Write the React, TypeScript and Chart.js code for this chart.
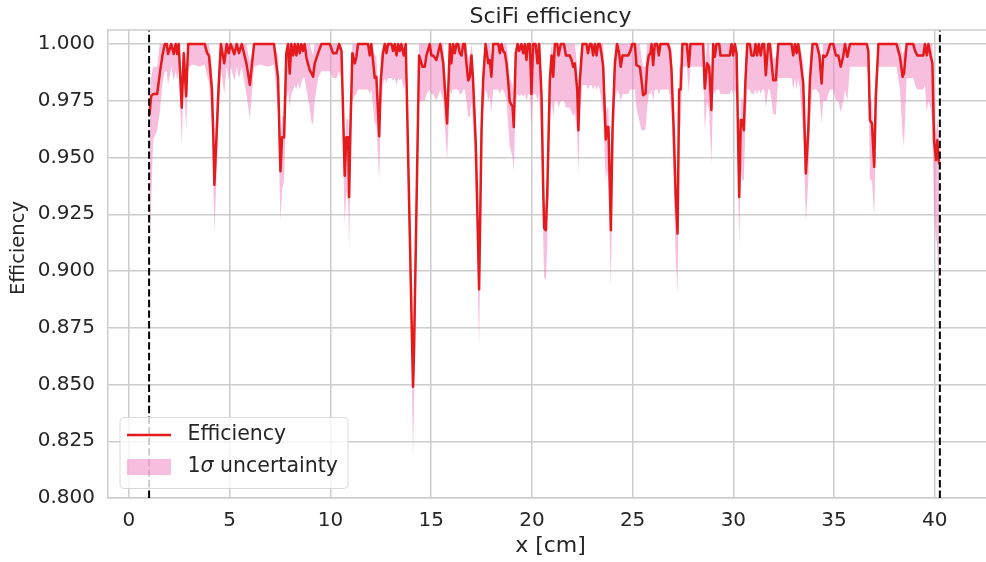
import React, { useEffect, useRef } from 'react';
import { Chart, registerables } from 'chart.js';

Chart.register(...registerables);

// ---------------- data ----------------
const X_CM = [
  1.02, 1.10, 1.20, 1.40, 1.53, 1.66, 1.78, 1.88, 1.94, 2.10, 2.22, 2.32, 2.39, 2.47, 2.62, 2.72, 2.84, 2.94,
  3.20, 3.50, 3.76, 3.88, 3.97, 4.12, 4.20, 4.24, 4.43, 4.56, 4.73, 4.85, 4.95, 5.05, 5.23, 5.35, 5.46, 5.60,
  5.83, 6.00, 6.21, 6.50, 6.90, 7.20, 7.40, 7.52, 7.60, 7.70, 7.81, 7.90, 7.98, 8.06, 8.15, 8.23, 8.31, 8.39,
  8.48, 8.56, 8.64, 8.72, 8.81, 8.97, 9.07, 9.14, 9.22, 9.39, 9.55, 9.97, 10.13, 10.30, 10.43, 10.55, 10.71,
  10.79, 10.88, 10.93, 10.99, 11.09, 11.21, 11.29, 11.37, 11.87, 11.95, 12.03, 12.20, 12.28, 12.42, 12.50,
  12.61, 12.70, 12.78, 12.86, 13.03, 13.11, 13.19, 13.28, 13.36, 13.44, 13.52, 13.64, 13.74, 14.05, 14.10,
  14.15, 14.40, 14.57, 14.68, 14.77, 14.93, 15.01, 15.10, 15.26, 15.45, 15.60, 15.79, 15.93, 16.00, 16.09,
  16.17, 16.26, 16.34, 16.42, 16.51, 16.59, 16.67, 16.75, 16.84, 16.92, 17.00, 17.08, 17.22, 17.38, 17.50,
  17.58, 17.70, 17.78, 17.83, 17.91, 17.99, 18.08, 18.33, 18.41, 18.49, 18.57, 18.66, 18.74, 18.82, 18.90,
  19.04, 19.10, 19.20, 19.29, 19.37, 19.48, 19.57, 19.65, 19.73, 19.81, 19.90, 19.98, 20.06, 20.18, 20.28,
  20.36, 20.48, 20.56, 20.61, 20.69, 20.76, 20.89, 20.98, 21.06, 21.14, 21.26, 21.32, 21.44, 21.59, 21.69,
  21.88, 21.97, 22.05, 22.13, 22.25, 22.31, 22.38, 22.51, 22.71, 22.78, 22.88, 22.96, 23.04, 23.13, 23.21,
  23.29, 23.37, 23.45, 23.54, 23.67, 23.73, 23.80, 23.92, 24.00, 24.12, 24.23, 24.33, 24.41, 24.50, 24.61,
  24.78, 24.89, 24.98, 25.11, 25.19, 25.36, 25.44, 25.52, 25.64, 25.72, 25.80, 25.89, 25.94, 26.02, 26.10,
  26.22, 26.30, 26.38, 26.76, 26.85, 26.93, 27.04, 27.14, 27.23, 27.31, 27.39, 27.47, 27.69, 27.79, 27.87,
  28.50, 28.58, 28.70, 28.80, 28.91, 29.00, 29.08, 29.16, 29.30, 29.36, 29.82, 29.91, 29.99, 30.07, 30.16,
  30.29, 30.37, 30.45, 30.52, 30.60, 30.69, 30.82, 30.90, 31.02, 31.10, 31.18, 31.26, 31.36, 31.44, 31.53,
  31.61, 31.73, 31.81, 31.90, 31.98, 32.11, 32.23, 32.89, 32.97, 33.06, 33.14, 33.22, 33.30, 33.47, 33.60,
  33.72, 33.80, 33.93, 34.13, 34.27, 34.38, 34.46, 34.55, 34.63, 34.71, 34.80, 34.96, 35.09, 35.21, 35.33,
  35.46, 35.54, 35.66, 35.79, 36.62, 36.70, 36.78, 36.88, 36.99, 37.07, 37.20, 38.10, 38.27, 38.40, 38.47,
  38.60, 38.93, 39.02, 39.13, 39.43, 39.51, 39.60, 39.68, 39.79, 39.88, 39.96, 40.06, 40.12, 40.21,
];

const EFFICIENCY = [
  0.969, 0.977, 0.978, 0.978, 0.987, 0.995, 1.000, 1.000, 0.9956, 1.000, 0.9956, 1.000, 0.9956, 1.000, 0.972, 0.996, 0.977, 1.000,
  1.000, 1.000, 1.000, 0.996, 0.995, 0.980, 0.955, 0.938, 0.977, 1.000, 0.9915, 1.000, 0.996, 1.000, 0.9955, 1.000, 0.996, 1.000,
  0.9915, 0.982, 1.000, 1.000, 1.000, 1.000, 0.985, 0.944, 0.959, 0.959, 0.996, 1.000, 0.987, 1.000, 0.995, 1.000, 0.995, 1.000,
  0.996, 1.000, 0.997, 1.000, 0.994, 0.9885, 0.987, 0.9856, 0.9915, 0.996, 1.000, 1.000, 0.996, 0.996, 1.000, 0.997, 0.942,
  0.959, 0.959, 0.9326, 0.962, 0.996, 0.9915, 0.9944, 1.000, 1.000, 0.995, 1.000, 0.985, 0.9856, 0.9594, 0.984,
  0.996, 1.000, 0.996, 1.000, 1.000, 0.997, 1.000, 0.995, 1.000, 0.997, 1.000, 0.995, 1.000, 0.870, 0.849,
  0.865, 0.995, 0.990, 0.990, 0.995, 1.000, 0.995, 0.995, 0.993, 1.000, 0.9915, 0.965, 1.000, 0.9915, 1.000,
  0.996, 1.000, 1.000, 0.996, 0.995, 1.000, 1.000, 0.9915, 0.984, 0.9856, 0.995, 0.984, 0.955, 0.892, 0.962,
  0.984, 1.000, 0.995, 0.9915, 0.993, 0.9856, 1.000, 1.000, 0.996, 1.000, 0.997, 0.996, 0.9915, 0.984, 0.9746,
  0.9724, 0.9635, 0.996, 1.000, 0.997, 1.000, 0.996, 1.000, 0.993, 1.000, 1.000, 0.978, 1.000, 1.000, 0.9915,
  1.000, 0.977, 0.937, 0.919, 0.918, 0.933, 0.984, 0.995, 0.9856, 1.000, 1.000, 0.995, 1.000, 1.000, 0.995,
  0.995, 0.993, 0.990, 0.9915, 0.980, 0.962, 0.984, 1.000, 1.000, 0.996, 1.000, 1.000, 0.995, 1.000, 0.995,
  1.000, 1.000, 0.996, 0.990, 0.958, 0.9635, 0.9635, 0.918, 0.962, 0.9915, 1.000, 0.996, 0.990, 0.995, 0.995,
  0.995, 0.997, 1.000, 1.000, 0.9907, 0.990, 0.9841, 0.9775, 0.9782, 0.990, 0.995, 0.996, 1.000, 0.9907, 1.000,
  1.000, 0.995, 1.000, 1.000, 0.997, 0.9885, 0.962, 0.9326, 0.9165, 0.980, 0.980, 1.000, 1.000, 0.990, 1.000,
  1.000, 0.9804, 0.9915, 0.990, 0.971, 1.000, 0.9944, 1.000, 1.000, 0.995, 0.995, 1.000, 0.995, 1.000, 0.996,
  0.9326, 0.9665, 0.9665, 0.962, 0.984, 1.000, 1.000, 0.995, 0.995, 1.000, 0.995, 1.000, 0.995, 1.000, 1.000,
  0.9863, 1.000, 1.000, 0.9915, 0.9841, 0.9841, 1.000, 1.000, 0.995, 1.000, 0.996, 1.000, 0.995, 0.9826, 0.943,
  0.962, 0.9841, 1.000, 1.000, 0.995, 0.9826, 0.995, 0.9944, 0.995, 0.997, 1.000, 1.000, 0.995, 0.995, 0.990,
  0.995, 1.000, 0.9944, 1.000, 1.000, 0.997, 0.9665, 0.965, 0.946, 0.977, 1.000, 1.000, 0.9944, 0.9856, 0.987,
  1.000, 1.000, 0.997, 0.995, 0.995, 1.000, 0.995, 1.000, 0.995, 0.9915, 0.9576, 0.9488, 0.9576, 0.9474,
];

const LOWER_1SIGMA = [
  0.905, 0.930, 0.958, 0.962, 0.970, 0.982, 0.988, 0.988, 0.982, 0.990, 0.984, 0.988, 0.984, 0.990, 0.956, 0.984, 0.962, 0.990,
  0.991, 0.990, 0.991, 0.986, 0.983, 0.965, 0.935, 0.9165, 0.962, 0.990, 0.978, 0.990, 0.984, 0.990, 0.984, 0.990, 0.985, 0.990,
  0.978, 0.967, 0.990, 0.991, 0.990, 0.991, 0.970, 0.922, 0.936, 0.940, 0.975, 0.980, 0.972, 0.978, 0.980, 0.982, 0.980, 0.983,
  0.980, 0.983, 0.985, 0.985, 0.980, 0.972, 0.965, 0.965, 0.975, 0.985, 0.988, 0.988, 0.985, 0.985, 0.988, 0.985, 0.920,
  0.935, 0.930, 0.909, 0.945, 0.975, 0.977, 0.978, 0.980, 0.980, 0.978, 0.980, 0.965, 0.965, 0.940, 0.970,
  0.982, 0.985, 0.983, 0.985, 0.985, 0.984, 0.985, 0.982, 0.985, 0.984, 0.985, 0.980, 0.985, 0.850, 0.818,
  0.840, 0.975, 0.975, 0.975, 0.978, 0.980, 0.978, 0.978, 0.975, 0.980, 0.975, 0.949, 0.980, 0.978, 0.980,
  0.980, 0.980, 0.980, 0.978, 0.978, 0.980, 0.980, 0.975, 0.968, 0.968, 0.975, 0.965, 0.935, 0.8665, 0.945,
  0.970, 0.980, 0.978, 0.975, 0.977, 0.970, 0.980, 0.980, 0.978, 0.980, 0.980, 0.978, 0.975, 0.965, 0.955,
  0.950, 0.944, 0.975, 0.978, 0.977, 0.978, 0.977, 0.978, 0.975, 0.978, 0.978, 0.963, 0.978, 0.978, 0.975,
  0.978, 0.955, 0.915, 0.897, 0.896, 0.910, 0.965, 0.975, 0.968, 0.975, 0.975, 0.972, 0.975, 0.975, 0.972,
  0.972, 0.970, 0.968, 0.970, 0.960, 0.943, 0.968, 0.982, 0.982, 0.980, 0.982, 0.982, 0.980, 0.982, 0.980,
  0.982, 0.980, 0.975, 0.968, 0.939, 0.945, 0.940, 0.893, 0.940, 0.975, 0.980, 0.978, 0.975, 0.978, 0.978,
  0.978, 0.980, 0.980, 0.980, 0.972, 0.965, 0.962, 0.962, 0.962, 0.972, 0.978, 0.978, 0.980, 0.975, 0.980,
  0.980, 0.978, 0.980, 0.980, 0.978, 0.970, 0.940, 0.905, 0.890, 0.960, 0.965, 0.990, 0.990, 0.978, 0.990,
  0.990, 0.962, 0.975, 0.970, 0.947, 0.980, 0.978, 0.980, 0.980, 0.978, 0.978, 0.980, 0.978, 0.980, 0.975,
  0.911, 0.945, 0.940, 0.940, 0.965, 0.980, 0.980, 0.978, 0.978, 0.980, 0.978, 0.980, 0.978, 0.980, 0.980,
  0.972, 0.980, 0.980, 0.975, 0.969, 0.969, 0.985, 0.985, 0.980, 0.985, 0.980, 0.985, 0.980, 0.960, 0.922,
  0.940, 0.965, 0.980, 0.980, 0.978, 0.965, 0.975, 0.975, 0.975, 0.978, 0.980, 0.980, 0.975, 0.975, 0.970,
  0.975, 0.980, 0.975, 0.990, 0.990, 0.985, 0.940, 0.940, 0.9245, 0.955, 0.990, 0.990, 0.980, 0.960, 0.955,
  0.985, 0.985, 0.982, 0.980, 0.980, 0.982, 0.970, 0.975, 0.972, 0.965, 0.925, 0.915, 0.910, 0.880,
];

const UPPER_1SIGMA = [
  0.975, 0.985, 0.990, 0.990, 1, 1, 1, 1, 1, 1, 1, 1, 1, 1, 0.985, 1, 0.990, 1,
  1, 1, 1, 1, 1, 0.990, 0.965, 0.948, 0.990, 1, 1, 1, 1, 1, 1, 1, 1, 1,
  1, 0.992, 1, 1, 1, 1, 0.995, 0.955, 0.968, 0.968, 1, 1, 1, 1, 1, 1, 1, 1,
  1, 1, 1, 1, 1, 1, 0.997, 0.995, 1, 1, 1, 1, 1, 1, 1, 1, 0.952,
  0.967, 0.967, 0.944, 0.972, 1, 1, 1, 1, 1, 1, 1, 0.995, 0.995, 0.970, 0.995,
  1, 1, 1, 1, 1, 1, 1, 1, 1, 1, 1, 1, 1, 0.875, 0.855,
  0.872, 1, 1, 1, 1, 1, 1, 1, 1, 1, 1, 0.975, 1, 1, 1,
  1, 1, 1, 1, 1, 1, 1, 1, 0.994, 0.995, 1, 0.994, 0.965, 0.900, 0.972,
  0.994, 1, 1, 1, 1, 0.995, 1, 1, 1, 1, 1, 1, 1, 0.994, 0.985,
  0.982, 0.974, 1, 1, 1, 1, 1, 1, 1, 1, 1, 0.990, 1, 1, 1,
  1, 0.987, 0.947, 0.930, 0.928, 0.943, 0.993, 1, 0.995, 1, 1, 1, 1, 1, 1,
  1, 1, 1, 1, 0.990, 0.972, 0.994, 1, 1, 1, 1, 1, 1, 1, 1,
  1, 1, 1, 1, 0.968, 0.972, 0.972, 0.928, 0.972, 1, 1, 1, 1, 1, 1,
  1, 1, 1, 1, 1, 1, 0.994, 0.990, 0.990, 1, 1, 1, 1, 1, 1,
  1, 1, 1, 1, 1, 0.998, 0.972, 0.942, 0.926, 0.990, 0.990, 1, 1, 1, 1,
  1, 0.990, 1, 1, 0.981, 1, 1, 1, 1, 1, 1, 1, 1, 1, 1,
  0.943, 0.976, 0.976, 0.972, 0.994, 1, 1, 1, 1, 1, 1, 1, 1, 1, 1,
  0.996, 1, 1, 1, 0.994, 0.994, 1, 1, 1, 1, 1, 1, 1, 0.992, 0.953,
  0.972, 0.994, 1, 1, 1, 0.992, 1, 1, 1, 1, 1, 1, 1, 1, 1,
  1, 1, 1, 1, 1, 1, 0.976, 0.975, 0.956, 0.987, 1, 1, 1, 0.995, 0.997,
  1, 1, 1, 1, 1, 1, 1, 1, 1, 1, 0.968, 0.960, 0.968, 0.958,
];

const BOUNDARIES_CM = [1.0, 40.25];
const X_TICKS = [0, 5, 10, 15, 20, 25, 30, 35, 40];
const Y_TICKS = [0.8, 0.825, 0.85, 0.875, 0.9, 0.925, 0.95, 0.975, 1.0];
const X_RANGE = [-1.04, 42.54];
const Y_RANGE = [0.8, 1.0062];

const TITLE = 'SciFi efficiency';
const X_LABEL = 'x [cm]';
const Y_LABEL = 'Efficiency';
const LEGEND_LINE = 'Efficiency';
const LEGEND_BAND_PRE = '1';
const LEGEND_BAND_SIGMA = 'σ';
const LEGEND_BAND_POST = ' uncertainty';

// ---------------- style ----------------
const FONT = "'DejaVu Sans', 'Liberation Sans', sans-serif";
const TEXT = '#262626';
const GRID = '#cccccc';
const RED = '#e41a1c';
const PINK = 'rgba(239, 125, 187, 0.5)';

const decorPlugin = {
  id: 'decor',
  afterDraw(chart: any) {
    const { ctx, chartArea: ca } = chart;
    ctx.save();
    // top spine
    ctx.strokeStyle = GRID;
    ctx.lineWidth = 1.5;
    ctx.beginPath();
    ctx.moveTo(ca.left, ca.top);
    ctx.lineTo(ca.right, ca.top);
    ctx.stroke();

    ctx.fillStyle = TEXT;
    // title
    ctx.font = `22px ${FONT}`;
    ctx.textAlign = 'center';
    ctx.textBaseline = 'alphabetic';
    ctx.fillText(TITLE, 550.5, 23);
    // x label
    ctx.textBaseline = 'middle';
    ctx.fillText(X_LABEL, 550.5, 546);
    // y label
    ctx.save();
    ctx.font = `19.5px ${FONT}`;
    ctx.translate(18.5, 248);
    ctx.rotate(-Math.PI / 2);
    ctx.fillText(Y_LABEL, 0, 0);
    ctx.restore();

    // legend
    const lx = 120, ly = 417.5, lw = 228, lh = 71, r = 4;
    ctx.beginPath();
    ctx.moveTo(lx + r, ly);
    ctx.lineTo(lx + lw - r, ly);
    ctx.quadraticCurveTo(lx + lw, ly, lx + lw, ly + r);
    ctx.lineTo(lx + lw, ly + lh - r);
    ctx.quadraticCurveTo(lx + lw, ly + lh, lx + lw - r, ly + lh);
    ctx.lineTo(lx + r, ly + lh);
    ctx.quadraticCurveTo(lx, ly + lh, lx, ly + lh - r);
    ctx.lineTo(lx, ly + r);
    ctx.quadraticCurveTo(lx, ly, lx + r, ly);
    ctx.closePath();
    ctx.fillStyle = 'rgba(255,255,255,0.8)';
    ctx.fill();
    ctx.strokeStyle = '#d9d9d9';
    ctx.lineWidth = 1;
    ctx.stroke();

    ctx.strokeStyle = RED;
    ctx.lineWidth = 2.5;
    ctx.beginPath();
    ctx.moveTo(127, 435);
    ctx.lineTo(171, 435);
    ctx.stroke();

    ctx.fillStyle = PINK;
    ctx.fillRect(127, 459, 44, 16);

    ctx.fillStyle = TEXT;
    ctx.textAlign = 'left';
    ctx.textBaseline = 'middle';
    ctx.font = `20.5px ${FONT}`;
    ctx.fillText(LEGEND_LINE, 187.5, 435);
    let tx = 187.5;
    ctx.fillText(LEGEND_BAND_PRE, tx, 467);
    tx += ctx.measureText(LEGEND_BAND_PRE).width;
    ctx.font = `italic 20.5px ${FONT}`;
    ctx.fillText(LEGEND_BAND_SIGMA, tx, 467);
    tx += ctx.measureText(LEGEND_BAND_SIGMA).width;
    ctx.font = `20.5px ${FONT}`;
    ctx.fillText(LEGEND_BAND_POST, tx, 467);
    ctx.restore();
  },
};

export default function App() {
  const ref = useRef<HTMLCanvasElement | null>(null);

  useEffect(() => {
    if (!ref.current) return;
    const pts = (ys: number[]) => X_CM.map((x, i) => ({ x, y: ys[i] }));
    const vline = (x: number) => ({
      data: [{ x, y: Y_RANGE[0] }, { x, y: Y_RANGE[1] }],
      borderColor: '#000000',
      borderWidth: 2,
      borderDash: [7.4, 3.2],
      pointRadius: 0,
      fill: false,
    });

    const chart = new Chart(ref.current, {
      type: 'line',
      data: {
        datasets: [
          ...BOUNDARIES_CM.map(vline),
          {
            label: LEGEND_LINE,
            data: pts(EFFICIENCY),
            borderColor: RED,
            borderWidth: 2.5,
            borderJoinStyle: 'round',
            borderCapStyle: 'round',
            pointRadius: 0,
            tension: 0,
            fill: false,
          },
          {
            label: 'upper',
            data: pts(UPPER_1SIGMA),
            borderColor: 'transparent',
            borderWidth: 0,
            pointRadius: 0,
            tension: 0,
            fill: false,
          },
          {
            label: 'lower',
            data: pts(LOWER_1SIGMA),
            borderColor: 'transparent',
            backgroundColor: PINK,
            borderWidth: 0,
            pointRadius: 0,
            tension: 0,
            fill: '-1',
          },
        ] as any,
      },
      options: {
        animation: false,
        responsive: false,
        devicePixelRatio: 1,
        layout: { padding: { top: 30, left: 0, right: 0, bottom: 0 } },
        plugins: {
          legend: { display: false },
          tooltip: { enabled: false },
          title: { display: false },
        },
        scales: {
          x: {
            type: 'linear',
            min: X_RANGE[0],
            max: X_RANGE[1],
            grid: { color: GRID, lineWidth: 1.5, drawTicks: false },
            border: { color: GRID, width: 1.5 },
            ticks: {
              color: TEXT,
              font: { family: FONT, size: 20 },
              padding: 11,
              maxRotation: 0,
              autoSkip: false,
              callback: (v: any) => String(v),
            },
            afterBuildTicks: (s: any) => {
              s.ticks = X_TICKS.map((value) => ({ value }));
            },
            afterFit: (s: any) => {
              s.height = 64;
            },
          },
          y: {
            type: 'linear',
            min: Y_RANGE[0],
            max: Y_RANGE[1],
            grid: { color: GRID, lineWidth: 1.5, drawTicks: false },
            border: { color: GRID, width: 1.5 },
            ticks: {
              color: TEXT,
              font: { family: FONT, size: 20 },
              padding: 13,
              autoSkip: false,
              callback: (v: any) => Number(v).toFixed(3),
            },
            afterBuildTicks: (s: any) => {
              s.ticks = Y_TICKS.map((value) => ({ value }));
            },
            afterFit: (s: any) => {
              s.width = 108;
            },
          },
        },
      } as any,
      plugins: [decorPlugin],
    });
    return () => chart.destroy();
  }, []);

  return (
    <div style={{ position: 'fixed', left: 0, top: 0, width: 986, height: 562, background: '#ffffff' }}>
      <canvas ref={ref} width={986} height={562} style={{ display: 'block' }} />
    </div>
  );
}
